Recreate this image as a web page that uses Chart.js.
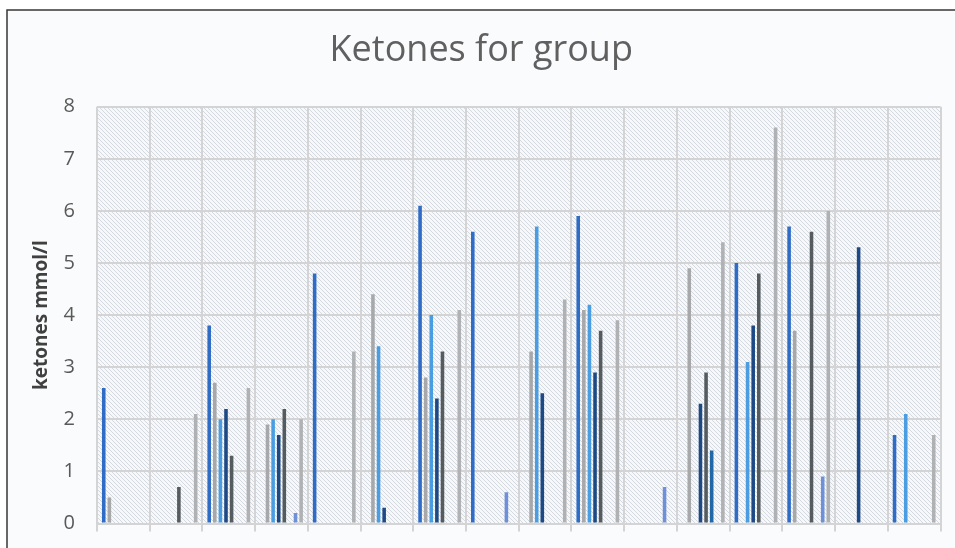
<!DOCTYPE html>
<html>
<head>
<meta charset="utf-8">
<title>Ketones for group</title>
<script src="https://cdn.jsdelivr.net/npm/chart.js@4/dist/chart.umd.min.js"></script>
<style>
  html, body { margin: 0; padding: 0; background: #ffffff; }
  #wrap { width: 955px; height: 548px; position: relative; }
</style>
</head>
<body>
<div id="wrap"><canvas id="chart" width="955" height="548"></canvas></div>
<script>
// Subjects in the group (one cluster each)
const categories = ['1', '2', '3', '4', '5', '6', '7', '8', '9', '10', '11', '12', '13', '14', '15', '16'];

// Ketone readings (mmol/l) per measurement, null where nothing was recorded
const reading1 = [2.6, null, 3.8, null, 4.8, null, 6.1, 5.6, null, 5.9, null, null, 5.0, 5.7, null, 1.7];
const reading2 = [0.5, null, 2.7, 1.9, null, 4.4, 2.8, null, 3.3, 4.1, null, 4.9, null, 3.7, null, null];
const reading3 = [null, null, 2.0, 2.0, null, 3.4, 4.0, null, 5.7, 4.2, null, null, 3.1, null, null, 2.1];
const reading4 = [null, null, 2.2, 1.7, null, 0.3, 2.4, null, 2.5, 2.9, null, 2.3, 3.8, null, 5.3, null];
const reading5 = [null, 0.7, 1.3, 2.2, null, null, 3.3, null, null, 3.7, null, 2.9, 4.8, 5.6, null, null];
const reading6 = [null, null, null, null, null, null, null, null, null, null, null, 1.4, null, null, null, null];
const reading7 = [null, null, null, 0.2, null, null, null, 0.6, null, null, 0.7, null, null, 0.9, null, null];
const reading8 = [null, 2.1, 2.6, 2.0, 3.3, null, 4.1, null, 4.3, 3.9, null, 5.4, 7.6, 6.0, null, 1.7];

// Y axis range
const yTicks = { min: 0, max: 8, step: 1 };

const seriesList = [reading1, reading2, reading3, reading4, reading5, reading6, reading7, reading8];
const seriesColors = ['#2f6cc6', '#a6a8aa', '#4a9de0', '#1d4a84', '#555c60', '#2168a6', '#6f90d8', '#afb1b3'];

const gridColor = '#d4d4d4';

// Diagonal hatch used to fill the plot area
function makeHatch(ctx) {
  const tile = document.createElement('canvas');
  tile.width = 8; tile.height = 8;
  const t = tile.getContext('2d');
  t.fillStyle = '#f8f8f9';
  t.fillRect(0, 0, 8, 8);
  t.strokeStyle = 'rgba(172,186,200,0.5)';
  t.lineWidth = 1;
  for (let k = -8; k <= 8; k += 4) {
    t.beginPath();
    t.moveTo(k, 0);
    t.lineTo(k + 8, 8);
    t.stroke();
  }
  return ctx.createPattern(tile, 'repeat');
}

const backdrop = {
  id: 'backdrop',
  beforeDraw(chart) {
    const { ctx, chartArea: a, width, height } = chart;
    ctx.save();
    ctx.fillStyle = '#ffffff';
    ctx.fillRect(0, 0, width, height);
    ctx.fillStyle = '#fafbfc';
    ctx.fillRect(7, 10, width - 7, height - 10);
    ctx.fillStyle = makeHatch(ctx);
    ctx.fillRect(a.left, a.top, a.right - a.left, a.bottom - a.top);
    ctx.strokeStyle = '#3a3636';
    ctx.lineWidth = 1.5;
    ctx.beginPath();
    ctx.moveTo(7, height);
    ctx.lineTo(7, 10);
    ctx.lineTo(width, 10);
    ctx.stroke();
    ctx.restore();
  }
};

new Chart(document.getElementById('chart'), {
  type: 'bar',
  data: {
    labels: categories,
    datasets: seriesList.map((values, i) => ({
      label: 'Reading ' + (i + 1),
      data: values,
      backgroundColor: seriesColors[i],
      borderWidth: 0,
      categoryPercentage: 0.85,
      barPercentage: 0.64
    }))
  },
  options: {
    responsive: false,
    animation: false,
    layout: { padding: { top: 0, left: 22, right: 14.5, bottom: 16.5 } },
    plugins: {
      legend: { display: false },
      tooltip: { enabled: false },
      title: {
        display: true,
        text: 'Ketones for group',
        color: '#606060',
        font: { family: 'Open Sans', size: 36, weight: 'normal' },
        padding: { top: 29.5, bottom: 34 }
      }
    },
    scales: {
      x: {
        grid: { color: gridColor, lineWidth: 2, offset: true, drawTicks: true, tickLength: 8 },
        border: { color: gridColor, width: 2 },
        ticks: { display: false }
      },
      y: {
        min: yTicks.min,
        max: yTicks.max,
        ticks: {
          stepSize: yTicks.step,
          color: '#595959',
          padding: 0,
          font: { family: 'Open Sans', size: 20 }
        },
        // invisible tick marks keep the labels clear of the plot area
        grid: { color: gridColor, lineWidth: 2, drawTicks: true, tickLength: 22, tickColor: 'rgba(0,0,0,0)' },
        border: { display: false },
        title: {
          display: true,
          text: 'ketones mmol/l',
          color: '#404040',
          font: { family: 'Open Sans', size: 19, weight: 'bold' },
          padding: { top: 8, bottom: 0 }
        },
        afterFit(scale) { scale.width = 75; }
      }
    }
  },
  plugins: [backdrop]
});
</script>
</body>
</html>
